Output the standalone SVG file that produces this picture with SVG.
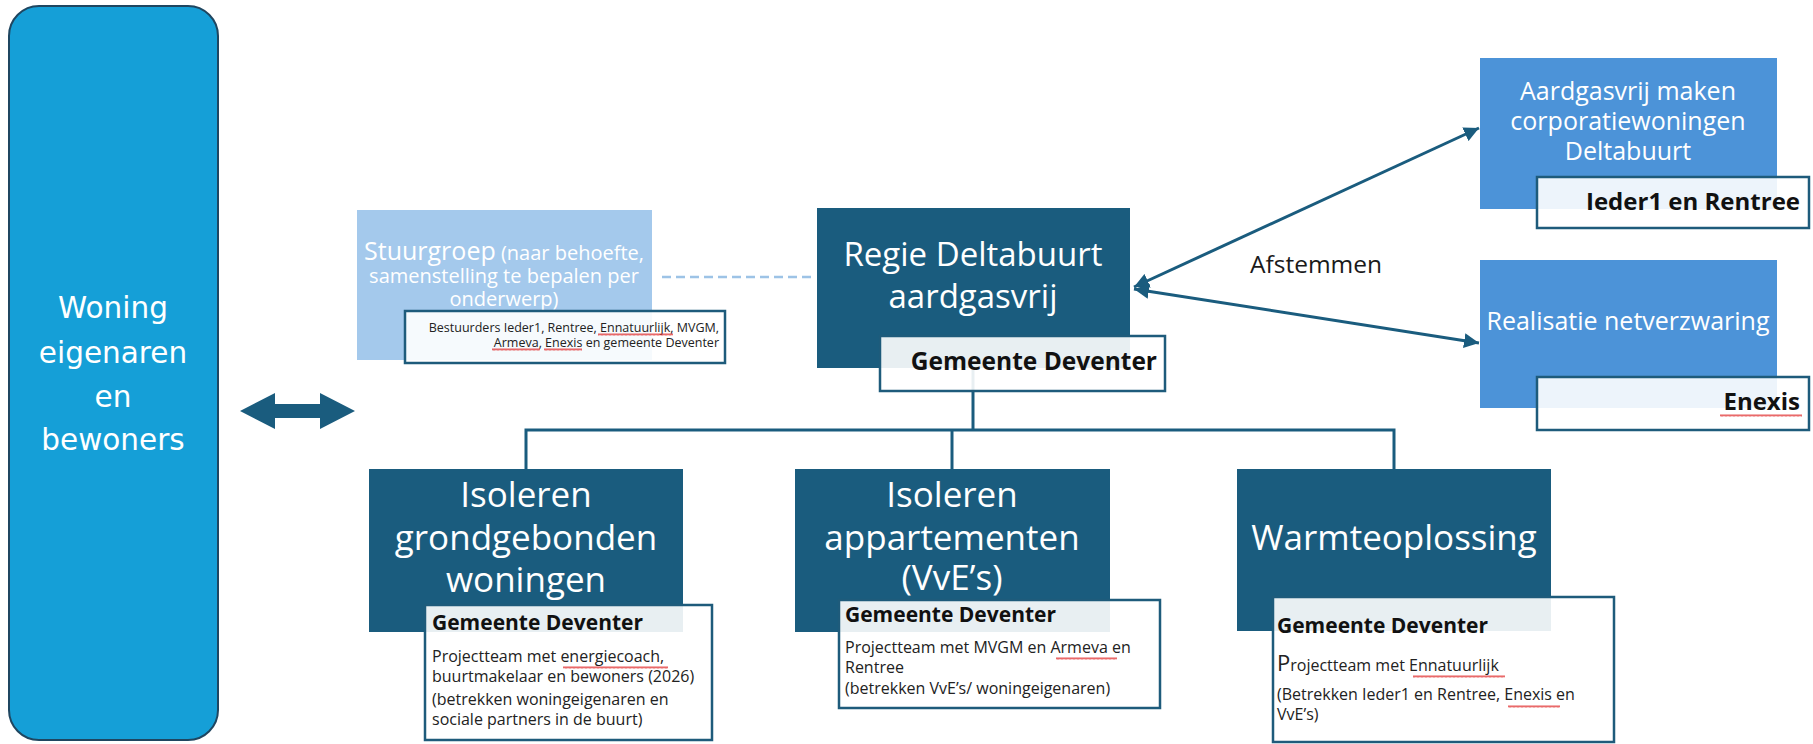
<svg xmlns="http://www.w3.org/2000/svg" width="1813" height="744" viewBox="0 0 1813 744">
<style>
.dark{fill:#1a5c7e}
.lbl{fill:#ffffff;fill-opacity:0.9;stroke:#1e5b7b;stroke-width:2.5}
.tw{fill:#ffffff;font-family:"Open Sans","Liberation Sans",sans-serif;text-anchor:middle}
.bd{fill:#111;font-family:"Open Sans","Liberation Sans",sans-serif;font-weight:700}
.bt{fill:#222;font-family:"Open Sans","Liberation Sans",sans-serif;font-size:16px}
.ln{fill:none;stroke:#1a5c7e;stroke-width:3}
.sq{fill:url(#sq)}
</style>
<defs>
<marker id="ah" viewBox="0 0 10 10" refX="10" refY="5" markerWidth="5" markerHeight="5" orient="auto-start-reverse" markerUnits="strokeWidth">
<path d="M0,0 L10,5 L0,10 Z" fill="#1a5c7e"/>
</marker>
<pattern id="sq" width="4" height="3" patternUnits="userSpaceOnUse">
<path d="M0,2.6 L1,0.4 L2,2.6 L3,0.4 L4,2.6" fill="none" stroke="#e02a2a" stroke-width="0.7"/>
</pattern>
</defs>

<g id="connectors">
<polygon points="240,411 275,393 275,404 320,404 320,393 355,411 320,429 320,418 275,418 275,429" fill="#1a5c7e"/>
<line x1="662" y1="277" x2="812" y2="277" stroke="#9dc3e6" stroke-width="2.5" stroke-dasharray="9 5"/>
<line class="ln" x1="1134" y1="287" x2="1479" y2="128" marker-start="url(#ah)" marker-end="url(#ah)"/>
<line class="ln" x1="1134" y1="289" x2="1479" y2="343" marker-start="url(#ah)" marker-end="url(#ah)"/>
<polyline class="ln" points="973,368 973,430"/>
<polyline class="ln" points="526,469 526,430 1394,430 1394,469"/>
<line class="ln" x1="952" y1="430" x2="952" y2="469"/>
<text x="1250" y="273" font-family="'Open Sans','Liberation Sans',sans-serif" font-size="24.5" fill="#1a1a1a">Afstemmen</text>
</g>

<g id="woning-eigenaren">
<rect x="9" y="6" width="209" height="734" rx="30" fill="#159fd7" stroke="#1f4660" stroke-width="2"/>
<text x="113" y="318" fill="#fff" font-family="'DejaVu Sans',sans-serif" font-size="29.5" text-anchor="middle">Woning</text>
<text x="113" y="363" fill="#fff" font-family="'DejaVu Sans',sans-serif" font-size="29.5" text-anchor="middle">eigenaren</text>
<text x="113" y="407" fill="#fff" font-family="'DejaVu Sans',sans-serif" font-size="29.5" text-anchor="middle">en</text>
<text x="113" y="450" fill="#fff" font-family="'DejaVu Sans',sans-serif" font-size="29.5" text-anchor="middle">bewoners</text>
</g>

<g id="stuurgroep">
<rect x="357" y="210" width="295" height="150" fill="#a4c9ec"/>
<text class="tw" x="504" y="260" font-size="20"><tspan font-size="25">Stuurgroep</tspan> (naar behoefte,</text>
<text class="tw" x="504" y="283" font-size="20">samenstelling te bepalen per</text>
<text class="tw" x="504" y="306" font-size="20">onderwerp)</text>
<rect class="lbl" x="405" y="311" width="320" height="52"/>
<text x="719" y="332" fill="#222" font-family="'Open Sans','Liberation Sans',sans-serif" font-size="12.5" text-anchor="end">Bestuurders Ieder1, Rentree, Ennatuurlijk, MVGM,</text>
<text x="719" y="347" fill="#222" font-family="'Open Sans','Liberation Sans',sans-serif" font-size="12.5" text-anchor="end">Armeva, Enexis en gemeente Deventer</text>
<rect class="sq" x="598" y="333" width="75" height="3"/>
<rect class="sq" x="492" y="348" width="48" height="3"/>
<rect class="sq" x="544" y="348" width="38" height="3"/>
</g>

<g id="regie">
<rect class="dark" x="817" y="208" width="313" height="160"/>
<text class="tw" x="973" y="266" font-size="33">Regie Deltabuurt</text>
<text class="tw" x="973" y="308" font-size="33">aardgasvrij</text>
<rect class="lbl" x="880" y="336" width="285" height="55"/>
<text class="bd" x="1157" y="370" font-size="24.5" text-anchor="end">Gemeente Deventer</text>
</g>

<g id="corporatiewoningen">
<rect x="1480" y="58" width="297" height="151" fill="#4c93d8"/>
<text class="tw" x="1628" y="100" font-size="25">Aardgasvrij maken</text>
<text class="tw" x="1628" y="130" font-size="25">corporatiewoningen</text>
<text class="tw" x="1628" y="160" font-size="25">Deltabuurt</text>
<rect class="lbl" x="1537" y="177" width="272" height="51"/>
<text class="bd" x="1800" y="210" font-size="24" text-anchor="end">Ieder1 en Rentree</text>
</g>

<g id="netverzwaring">
<rect x="1480" y="260" width="297" height="148" fill="#4c93d8"/>
<text class="tw" x="1628" y="330" font-size="25">Realisatie netverzwaring</text>
<rect class="lbl" x="1537" y="377" width="272" height="53"/>
<text class="bd" x="1800" y="410" font-size="24" text-anchor="end">Enexis</text>
<rect class="sq" x="1720" y="414" width="82" height="3"/>
</g>

<g id="isoleren-grondgebonden">
<rect class="dark" x="369" y="469" width="314" height="163"/>
<text class="tw" x="526" y="507" font-size="35">Isoleren</text>
<text class="tw" x="526" y="550" font-size="35">grondgebonden</text>
<text class="tw" x="526" y="592" font-size="35">woningen</text>
<rect class="lbl" x="425" y="605" width="287" height="135"/>
<text class="bd" x="432" y="630" font-size="21">Gemeente Deventer</text>
<text class="bt" x="432" y="662">Projectteam met energiecoach,</text>
<text class="bt" x="432" y="682">buurtmakelaar en bewoners (2026)</text>
<text class="bt" x="432" y="705">(betrekken woningeigenaren en</text>
<text class="bt" x="432" y="725">sociale partners in de buurt)</text>
<rect class="sq" x="563" y="666" width="105" height="3"/>
</g>

<g id="isoleren-appartementen">
<rect class="dark" x="795" y="469" width="315" height="163"/>
<text class="tw" x="952" y="507" font-size="35">Isoleren</text>
<text class="tw" x="952" y="550" font-size="35">appartementen</text>
<text class="tw" x="952" y="590" font-size="35">(VvE’s)</text>
<rect class="lbl" x="839" y="600" width="321" height="108"/>
<text class="bd" x="845" y="622" font-size="21">Gemeente Deventer</text>
<text class="bt" x="845" y="653">Projectteam met MVGM en Armeva en</text>
<text class="bt" x="845" y="673">Rentree</text>
<text class="bt" x="845" y="694">(betrekken VvE’s/ woningeigenaren)</text>
<rect class="sq" x="1056" y="657" width="61" height="3"/>
</g>

<g id="warmteoplossing">
<rect class="dark" x="1237" y="469" width="314" height="162"/>
<text class="tw" x="1394" y="550" font-size="35">Warmteoplossing</text>
<rect class="lbl" x="1273" y="597" width="341" height="145"/>
<text class="bd" x="1277" y="633" font-size="21">Gemeente Deventer</text>
<text class="bt" x="1277" y="671"><tspan font-size="22">P</tspan>rojectteam met Ennatuurlijk</text>
<text class="bt" x="1277" y="700">(Betrekken Ieder1 en Rentree, Enexis en</text>
<text class="bt" x="1277" y="720">VvE’s)</text>
<rect class="sq" x="1413" y="675" width="92" height="3"/>
<rect class="sq" x="1508" y="705" width="52" height="3"/>
</g>
</svg>
